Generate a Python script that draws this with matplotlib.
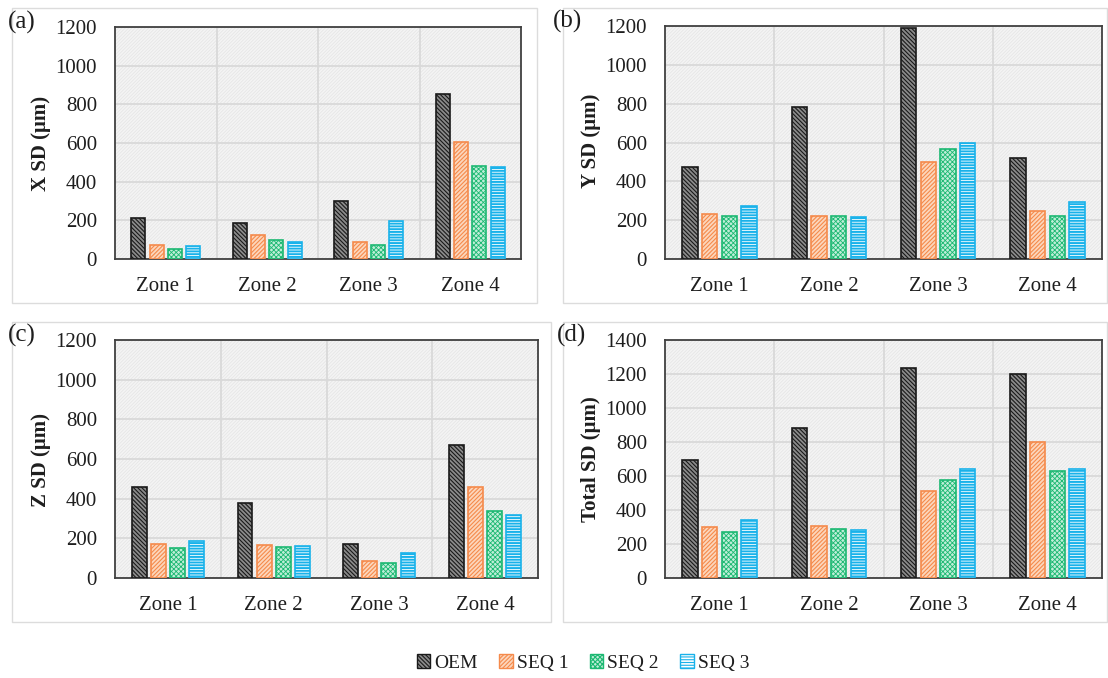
import matplotlib
matplotlib.use("Agg")
import matplotlib.pyplot as plt
from matplotlib.patches import Rectangle, Patch
import numpy as np

zones = ["Zone 1", "Zone 2", "Zone 3", "Zone 4"]
series = ["OEM", "SEQ 1", "SEQ 2", "SEQ 3"]

x_sd = {
    "OEM":   [214, 188, 300, 855],
    "SEQ 1": [72, 124, 88, 605],
    "SEQ 2": [53, 97, 75, 483],
    "SEQ 3": [67, 88, 197, 476],
}
y_sd = {
    "OEM":   [474, 783, 1188, 519],
    "SEQ 1": [234, 221, 497, 248],
    "SEQ 2": [221, 224, 566, 221],
    "SEQ 3": [274, 216, 600, 295],
}
z_sd = {
    "OEM":   [458, 376, 170, 671],
    "SEQ 1": [170, 168, 84, 460],
    "SEQ 2": [149, 156, 74, 336],
    "SEQ 3": [186, 161, 126, 316],
}
total_sd = {
    "OEM":   [693, 885, 1237, 1202],
    "SEQ 1": [300, 305, 513, 801],
    "SEQ 2": [270, 290, 574, 628],
    "SEQ 3": [341, 282, 642, 640],
}

panels = [
    ("(a)", "X SD (μm)", x_sd, 1200),
    ("(b)", "Y SD (μm)", y_sd, 1200),
    ("(c)", "Z SD (μm)", z_sd, 1200),
    ("(d)", "Total SD (μm)", total_sd, 1400),
]

styles = {
    "OEM":   dict(facecolor="#8a8a8a", edgecolor="#1a1a1a", hatch="\\\\\\\\\\\\\\\\"),
    "SEQ 1": dict(facecolor="#fcd6bc", edgecolor="#f58a4b", hatch="////////"),
    "SEQ 2": dict(facecolor="#bfeed8", edgecolor="#1cb872", hatch="xxxxxxx"),
    "SEQ 3": dict(facecolor="#ffffff", edgecolor="#19b2ea", hatch="------"),
}
hatch_lw = {"OEM": 0.8, "SEQ 1": 0.8, "SEQ 2": 0.6, "SEQ 3": 1.4}

plt.rcParams["font.family"] = ["Liberation Serif", "DejaVu Serif"]
plt.rcParams["hatch.linewidth"] = 0.8

W, H = 1108, 678
fig = plt.figure(figsize=(W / 100, H / 100), dpi=100)

def fx(px):
    return px / W

def fy(py):
    return 1 - py / H

axes_px = [(115, 521, 27, 259), (665, 1102, 26, 259),
           (115, 538, 340, 578), (665, 1102, 340, 578)]
frames_px = [(12, 537, 8, 303), (563, 1107, 8, 303),
             (12, 551, 322, 622), (563, 1107, 322, 622)]
ylab_px = [(41, 143), (591, 141), (41, 460), (591, 459)]
plab_px = [(22, 22), (568, 21), (22, 335), (572, 335)]

for (fl, fr, ft, fb) in frames_px:
    fig.add_artist(Rectangle((fx(fl), fy(fb)), fx(fr - fl), (fb - ft) / H,
                             transform=fig.transFigure, fill=False,
                             edgecolor="#dcdcdc", lw=1.0))

def set_hlw(artist, lw):
    if hasattr(artist, "set_hatch_linewidth"):
        try:
            artist.set_hatch_linewidth(lw)
        except Exception:
            pass

width = 0.14
pitch = 0.18
xpos = np.arange(len(zones))
text_color = "#1e1e1e"

for i, (plabel, ylabel, data, ymax) in enumerate(panels):
    l, r, t, b = axes_px[i]
    ax = fig.add_axes([fx(l), fy(b), fx(r - l), (b - t) / H])
    ax.set_facecolor("#f4f4f4")
    bg = Rectangle((0, 0), 1, 1, transform=ax.transAxes,
                   facecolor="#f4f4f4", edgecolor="#e4e4e4",
                   hatch="//////////", lw=0, zorder=0)
    set_hlw(bg, 0.5)
    ax.add_patch(bg)
    for j, s in enumerate(series):
        with plt.rc_context({"hatch.linewidth": hatch_lw[s]}):
            bars = ax.bar(xpos + (j - 1.5) * pitch, data[s], width=width,
                          linewidth=1.2, zorder=3, **styles[s])
        for p in bars:
            set_hlw(p, hatch_lw[s])
    ax.set_xlim(-0.5, 3.5)
    ax.set_ylim(0, ymax)
    ax.set_yticks(np.arange(0, ymax + 1, 200))
    ax.set_xticks(xpos)
    ax.set_xticklabels(zones)
    ax.set_xticks([0.5, 1.5, 2.5], minor=True)
    ax.grid(True, which="major", axis="y", color="#d9d9d9", lw=1.3, zorder=1)
    ax.grid(True, which="minor", axis="x", color="#d9d9d9", lw=1.3, zorder=1)
    ax.set_axisbelow(True)
    ax.tick_params(axis="both", which="both", length=0, labelsize=15,
                   labelcolor=text_color)
    ax.tick_params(axis="x", pad=13)
    ax.tick_params(axis="y", pad=13)
    for sp in ax.spines.values():
        sp.set_color("#404040")
        sp.set_linewidth(1.3)
    lx, ly = ylab_px[i]
    fig.text(fx(lx), fy(ly), ylabel, rotation=90, ha="center", va="center",
             fontsize=15, fontweight="bold", color=text_color)
    px_, py_ = plab_px[i]
    fig.text(fx(px_), fy(py_), plabel, ha="center", va="center",
             fontsize=18, color=text_color)

handles = []
for s in series:
    h = Patch(linewidth=1.0, label=s, **styles[s])
    set_hlw(h, hatch_lw[s])
    handles.append(h)
fig.legend(handles=handles, loc="center", ncol=4,
           bbox_to_anchor=(fx(583), fy(663)), frameon=False,
           fontsize=14, handlelength=0.7, handleheight=0.7,
           handletextpad=0.2, columnspacing=1.1,
           labelcolor=text_color)

fig.savefig("out.png", dpi=100, facecolor="white")
